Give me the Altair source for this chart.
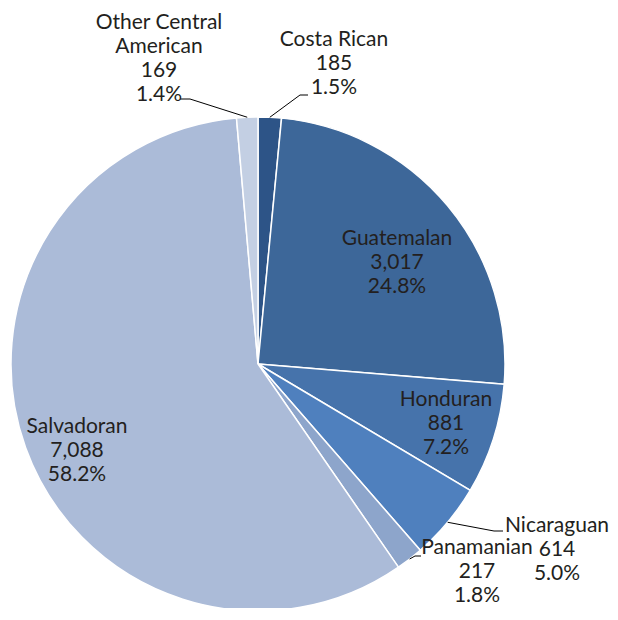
import math
import altair as alt
import pandas as pd

# ---- data ----
categories = ["Costa Rican", "Guatemalan", "Honduran", "Nicaraguan",
              "Panamanian", "Salvadoran", "Other Central American"]
counts = [185, 3017, 881, 614, 217, 7088, 169]
pct_labels = ["1.5%", "24.8%", "7.2%", "5.0%", "1.8%", "58.2%", "1.4%"]
name_lines = ["Costa Rican", "Guatemalan", "Honduran", "Nicaraguan",
              "Panamanian", "Salvadoran", "Other Central\nAmerican"]
colors = ["#2d5487", "#3d6799", "#4673ab", "#4f80be",
          "#8da5cb", "#abbbd8", "#c3cfe3"]

# ---- layout (plot coordinates) ----
CX, CY, R = 250, 356, 247
# label anchor: (center x, first-line baseline y)
label_pos = {
    "Costa Rican": (326, 38),
    "Guatemalan": (389, 237),
    "Honduran": (438, 398),
    "Nicaraguan": (549, 524),
    "Panamanian": (469, 546),
    "Salvadoran": (69, 425),
    "Other Central American": (151, 21),
}
# leader line elbows (elbow point, end point)
leaders = {
    "Costa Rican": [(292, 87), (300, 87)],
    "Other Central American": [(182, 91), (172, 91)],
    "Nicaraguan": [(486, 523), (495, 523)],
    "Panamanian": [(407, 548), (413, 548)],
}

df = pd.DataFrame({
    "category": categories,
    "count": counts,
    "idx": list(range(len(categories))),
})

total = sum(counts)
lab_rows = []
for c, n, p, nm in zip(categories, counts, pct_labels, name_lines):
    lx, ly = label_pos[c]
    lab_rows.append({"category": c, "lx": lx, "ly": ly,
                     "text": f"{nm}\n{n:,}\n{p}"})
labels = pd.DataFrame(lab_rows)

line_rows = []
cum = 0
for c, n in zip(categories, counts):
    mid = (cum + n / 2) / total * 2 * math.pi
    cum += n
    if c in leaders:
        sx = CX + R * math.sin(mid)
        sy = CY - R * math.cos(mid)
        pts = [(sx, sy)] + leaders[c]
        for i, (px, py) in enumerate(pts):
            line_rows.append({"category": c, "seq": i, "px": px, "py": py})
lines = pd.DataFrame(line_rows)

pie = alt.Chart(df).mark_arc(outerRadius=R, stroke="white", strokeWidth=1.5).encode(
    theta=alt.Theta("count:Q", stack=True),
    order=alt.Order("idx:Q"),
    color=alt.Color("category:N", scale=alt.Scale(domain=categories, range=colors), legend=None),
    x=alt.value(CX),
    y=alt.value(CY),
)

text = alt.Chart(labels).mark_text(
    font="Lato", fontSize=21, lineBreak="\n", lineHeight=24,
    align="center", baseline="alphabetic", color="#231f20",
).encode(
    x=alt.X("lx:Q", scale=None, axis=None),
    y=alt.Y("ly:Q", scale=None, axis=None),
    text="text:N",
)

lead = alt.Chart(lines).mark_line(color="#000000", strokeWidth=1).encode(
    x=alt.X("px:Q", scale=None, axis=None),
    y=alt.Y("py:Q", scale=None, axis=None),
    detail="category:N",
    order="seq:Q",
)

chart = alt.layer(pie, lead, text).properties(
    width=602, height=600, padding=0,
    autosize=alt.AutoSizeParams(type="none"),
).configure(
    background="white",
    view=alt.ViewConfig(strokeWidth=0, stroke="transparent"),
)

chart.save("out.html", embed_options={"renderer": "svg", "actions": False})
